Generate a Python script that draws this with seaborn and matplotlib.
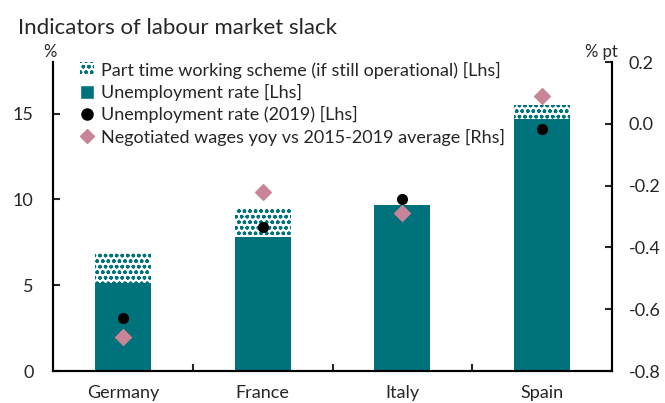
import pandas as pd
import matplotlib
matplotlib.use('Agg')
import matplotlib.pyplot as plt
import seaborn as sns
from matplotlib.patches import Patch
from matplotlib.lines import Line2D

countries = ['Germany', 'France', 'Italy', 'Spain']
unemployment = [5.1, 7.8, 9.7, 14.7]
part_time = [1.8, 1.7, 0.0, 0.8]
unemployment_2019 = [3.1, 8.4, 10.0, 14.1]
wages_vs_avg = [-0.69, -0.22, -0.29, 0.09]

teal = '#00727C'
pink = '#C98597'

sns.set_style('white')
plt.rcParams['font.family'] = ['Lato', 'DejaVu Sans']
plt.rcParams['hatch.linewidth'] = 1.0

df = pd.DataFrame({
    'country': countries,
    'unemp': unemployment,
    'total': [u + p for u, p in zip(unemployment, part_time)],
    'u2019': unemployment_2019,
    'wages': wages_vs_avg,
})

fig = plt.figure(figsize=(6.65, 4.03), dpi=100)
ax = fig.add_axes([0.0797, 0.0794, 0.8406, 0.7666])

# stacked bars: total (hatched) behind, unemployment on top
sns.barplot(data=df, x='country', y='total', ax=ax, color='white', width=0.4,
            linewidth=0, hatch='ooo', saturation=1)
for p in ax.patches:
    p.set_edgecolor(teal)
    p.set_facecolor('white')
sns.barplot(data=df, x='country', y='unemp', ax=ax, color=teal, width=0.4,
            linewidth=0, saturation=1)
sns.stripplot(data=df, x='country', y='u2019', ax=ax, color='black', jitter=False,
              size=8, marker='o', zorder=5)

ax2 = ax.twinx()
sns.stripplot(data=df, x='country', y='wages', ax=ax2, color=pink, jitter=False,
              size=9, marker='D', zorder=5, linewidth=0)

ax.set_ylim(0, 18)
ax.set_yticks([0, 5, 10, 15])
ax2.set_ylim(-0.8, 0.2)
ax2.set_yticks([-0.8, -0.6, -0.4, -0.2, 0.0, 0.2])
ax2.set_yticklabels(['-0.8', '-0.6', '-0.4', '-0.2', '0.0', '0.2'])
ax.set_xlim(-0.5, 3.5)
ax.set_xticks([0.5, 1.5, 2.5], minor=True)
ax.set_xlabel('')
ax.set_ylabel('')
ax2.set_ylabel('')

for a in (ax, ax2):
    a.spines['top'].set_visible(False)
    for s in ['left', 'right', 'bottom']:
        a.spines[s].set_linewidth(1.5)
        a.spines[s].set_color('black')

ax.tick_params(axis='y', direction='in', length=5, width=1.5, labelsize=13, pad=14)
ax2.tick_params(axis='y', direction='in', length=5, width=1.5, labelsize=13, pad=12)
ax.tick_params(axis='x', which='major', length=0, labelsize=13, pad=10)
ax.tick_params(axis='x', which='minor', direction='in', length=5, width=1.5, bottom=True)

fig.text(0.027, 0.93, 'Indicators of labour market slack', fontsize=16, va='center')
fig.text(0.075, 0.872, '%', fontsize=12, ha='center', va='center')
fig.text(0.905, 0.872, '% pt', fontsize=12, ha='center', va='center')

handles = [
    Patch(facecolor='white', edgecolor=teal, hatch='ooo', linewidth=0,
          label='Part time working scheme (if still operational) [Lhs]'),
    Patch(facecolor=teal, label='Unemployment rate [Lhs]'),
    Line2D([], [], marker='o', color='black', linestyle='', markersize=8,
           label='Unemployment rate (2019) [Lhs]'),
    Line2D([], [], marker='D', color=pink, linestyle='', markersize=7,
           label='Negotiated wages yoy vs 2015-2019 average [Rhs]'),
]
ax.legend(handles=handles, loc='upper left', bbox_to_anchor=(0.035, 1.025), frameon=False,
          fontsize=13, handlelength=0.8, handleheight=0.8, handletextpad=0.4,
          labelspacing=0.3, borderaxespad=0)

fig.savefig('out.png', dpi=100)
